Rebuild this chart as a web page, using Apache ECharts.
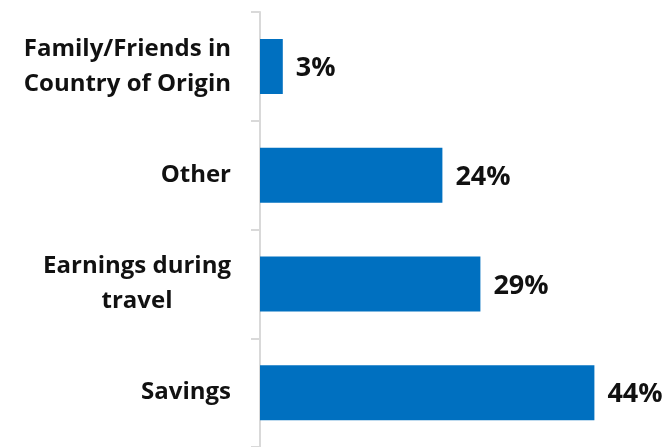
<!DOCTYPE html>
<html>
<head>
<meta charset="utf-8">
<script src="https://cdn.jsdelivr.net/npm/echarts@6/dist/echarts.min.js"></script>
<style>
  html, body { margin: 0; padding: 0; background: #fff; }
  #chart { width: 664px; height: 447px; }
</style>
</head>
<body>
<div id="chart"></div>
<script>
// Funding sources, listed top to bottom
const categories = ['Family/Friends in\nCountry of Origin', 'Other', 'Earnings during\ntravel', 'Savings'];
const shares = [3, 24, 29, 44];

const chart = echarts.init(document.getElementById('chart'));

const labelFont = {
  fontFamily: 'Open Sans',
  fontWeight: 'bold',
  fontSize: 24,
  lineHeight: 35,
  color: '#111'
};

chart.setOption({
  animation: false,
  grid: { left: 260, top: 12, height: 437, width: 380 },
  xAxis: {
    type: 'value',
    min: 0,
    max: 50,
    show: false
  },
  yAxis: {
    type: 'category',
    data: categories,
    inverse: true,
    axisLine: { show: true, lineStyle: { color: '#d9d9d9', width: 2 } },
    axisTick: { show: true, length: 9, lineStyle: { color: '#d9d9d9', width: 2 } },
    axisLabel: Object.assign({
      margin: 29,
      formatter: v => v.split('\n').map(s => '{c|' + s + '}').join('\n'),
      rich: { c: Object.assign({ align: 'center' }, labelFont) }
    }, labelFont)
  },
  series: [{
    type: 'bar',
    data: shares,
    barWidth: 55,
    itemStyle: { color: '#0070c0' },
    label: {
      show: true,
      position: 'right',
      distance: 13,
      formatter: p => p.value + '%',
      fontFamily: 'Open Sans',
      fontWeight: 'bold',
      fontSize: 27,
      color: '#111',
      offset: [0, 2]
    }
  }]
});
</script>
</body>
</html>
